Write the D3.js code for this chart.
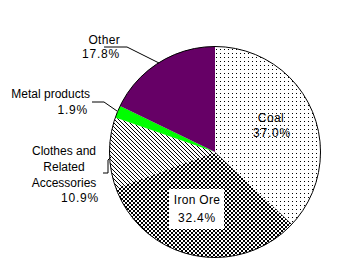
<!DOCTYPE html>
<html><head><meta charset="utf-8">
<script src="https://cdn.jsdelivr.net/npm/d3@7"></script>
<style>
body{margin:0;background:#fff;}
text{font-family:"Liberation Sans",Arial,sans-serif;font-size:12px;fill:#000;}
</style></head>
<body><svg id="c" width="358" height="268"></svg>
<script>
const categories = ["Coal","Iron Ore","Clothes and Related Accessories","Metal products","Other"];
const values = [37.0, 32.4, 10.9, 1.9, 17.8];
const valueLabels = ["37.0%","32.4%","10.9%","1.9%","17.8%"];

const svg = d3.select("#c");
const cx = 215, cy = 152, r = 105.5;
const defs = svg.append("defs");

// dots
const pd = defs.append("pattern").attr("id","dots").attr("patternUnits","userSpaceOnUse").attr("width",4).attr("height",4);
pd.append("rect").attr("width",4).attr("height",4).attr("fill","#fff");
pd.append("rect").attr("x",1).attr("y",1).attr("width",1).attr("height",1).attr("fill","#000");
// checker
const pc = defs.append("pattern").attr("id","check").attr("patternUnits","userSpaceOnUse").attr("width",4).attr("height",4);
pc.append("rect").attr("width",4).attr("height",4).attr("fill","#fff");
pc.append("rect").attr("x",0).attr("y",0).attr("width",2).attr("height",2).attr("fill","#000");
pc.append("rect").attr("x",2).attr("y",2).attr("width",2).attr("height",2).attr("fill","#000");
// diagonal hatch
const ph = defs.append("pattern").attr("id","hatch").attr("patternUnits","userSpaceOnUse").attr("width",4).attr("height",4);
ph.append("rect").attr("width",4).attr("height",4).attr("fill","#fff");
for (let i=0;i<4;i++) ph.append("rect").attr("x",i).attr("y",i).attr("width",1).attr("height",1).attr("fill","#000");

const fills = ["url(#dots)","url(#check)","url(#hatch)","#00ff00","#660066"];

const pie = d3.pie().sort(null).value(d=>d)(values);
const arc = d3.arc().innerRadius(0).outerRadius(r);
const g = svg.append("g").attr("transform",`translate(${cx},${cy})`);
g.selectAll("path.s").data(pie).join("path").attr("class","s")
  .attr("d",arc).attr("fill",(d,i)=>fills[i]);
g.append("circle").attr("r",r).attr("fill","none").attr("stroke","#000").attr("stroke-width",1);

// leader lines
const leaders = [
  [[104,47],[127,47],[159,63]],
  [[92,102],[104,102],[117,111]],
  [[103,173],[108,173],[108,160],[111,157]]
];
svg.selectAll("path.l").data(leaders).join("path").attr("class","l")
  .attr("d",d=>d3.line()(d)).attr("fill","none").attr("stroke","#000").attr("stroke-width",1);

// Iron ore white box
svg.append("rect").attr("x",169).attr("y",189).attr("width",55).attr("height",40).attr("fill","#fff");

function txt(x,y,s,anchor,ls){
  svg.append("text").attr("x",x).attr("y",y).attr("text-anchor",anchor||"middle").attr("dominant-baseline","central").style("letter-spacing",(ls||0)+"px").text(s);
}
txt(271,118,"Coal",null,0.4);
txt(272,133,valueLabels[0],null,0.8);
txt(197,200,categories[1],null,0.3);
txt(197,218,valueLabels[1],null,0.8);
txt(64,151,"Clothes and",null,0);
txt(64,167,"Related",null,0);
txt(64,183,"Accessories",null,0);
txt(99,198,valueLabels[2],"end",0.8);
txt(90,94,categories[3],"end",0);
txt(88,110,valueLabels[3],"end",0.8);
txt(120,40,categories[4],"end",0.3);
txt(120,54,valueLabels[4],"end",0.8);
</script></body></html>
